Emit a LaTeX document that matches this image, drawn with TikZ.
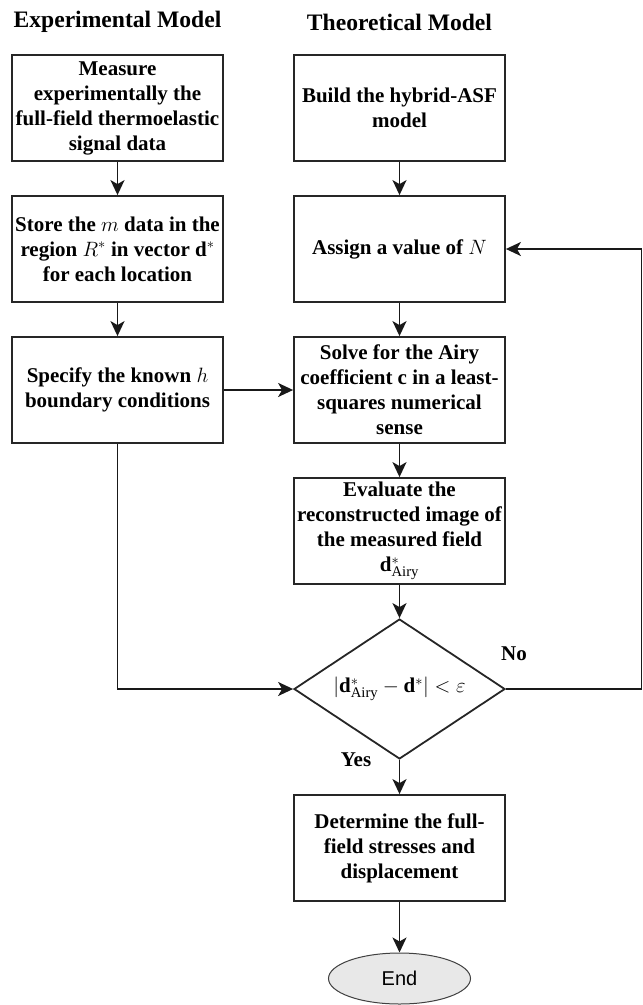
\documentclass[tikz,border=0pt]{standalone}
\usepackage{fontspec}
\setmainfont{Liberation Serif}
\newfontfamily\endfont{Liberation Sans}
\usetikzlibrary{shapes.geometric,arrows.meta}
\begin{document}
\begin{tikzpicture}[x=1pt,y=-1pt,
  titletxt/.style={font=\fontsize{23.6}{28}\selectfont\bfseries, inner sep=0pt},
  stepbox/.style={draw=black!85, line width=1.8pt, minimum width=211pt, minimum height=106pt,
    inner sep=2pt, align=center, font=\fontsize{21}{25}\selectfont\bfseries},
  decision/.style={diamond, draw=black!85, line width=1.8pt, minimum width=211pt, minimum height=140pt,
    aspect=1.507, inner sep=0pt, font=\fontsize{21}{25}\selectfont\bfseries},
  endnode/.style={ellipse, draw=black!75, line width=1pt, fill=black!9, minimum width=142pt,
    minimum height=51pt, inner sep=0pt, font=\fontsize{20}{24}\selectfont\endfont},
  lbl/.style={font=\fontsize{21}{25}\selectfont\bfseries, inner sep=0pt},
  arr/.style={draw=black!90, line width=1.8pt, -{Stealth[length=15pt,width=14pt,inset=4pt]}},
  line/.style={draw=black!90, line width=1.8pt}
]
\useasboundingbox (0,0) rectangle (643,1005);

\node[titletxt] (t1) at (117.5,22) {Experimental Model};
\node[titletxt] (t2) at (399.5,22) {Theoretical Model};

\node[stepbox] (L1) at (117.5,108) {Measure\\experimentally the\\full-field thermoelastic\\signal data};
\node[stepbox] (L2) at (117.5,249) {Store the $m$ data in the\\region $R^{*}$ in vector $\mathbf{d}^{*}$\\for each location};
\node[stepbox] (L3) at (117.5,390) {Specify the known $h$\\boundary conditions};

\node[stepbox] (R1) at (399.5,108) {Build the hybrid-ASF\\model};
\node[stepbox] (R2) at (399.5,249) {Assign a value of $N$};
\node[stepbox] (R3) at (399.5,390) {Solve for the Airy\\coefficient $\mathbf{c}$ in a least-\\squares numerical\\sense};
\node[stepbox] (R4) at (399.5,531) {Evaluate the\\reconstructed image of\\the measured field\\$\mathbf{d}^{*}_{\mathrm{Airy}}$};
\node[decision] (D) at (399.5,689) {$|\mathbf{d}^{*}_{\mathrm{Airy}}-\mathbf{d}^{*}|<\varepsilon$};
\node[stepbox] (R5) at (399.5,848) {Determine the full-\\field stresses and\\displacement};
\node[endnode] (E) at (399.5,978.5) {End};

\node[lbl] (yes) at (356,760) {Yes};
\node[lbl] (no) at (514,654) {No};

\coordinate (fb) at (641.5,689);

\draw[arr] (L1) -- (L2);
\draw[arr] (L2) -- (L3);
\draw[arr] (L3) -- (R3);
\draw[arr] (R1) -- (R2);
\draw[arr] (R2) -- (R3);
\draw[arr] (R3) -- (R4);
\draw[arr] (R4) -- (D.north);
\draw[arr] (L3.south) |- (D.west);
\draw[arr] (D.east) -- (fb) |- (R2.east);
\draw[arr] (D.south) -- (R5.north);
\draw[arr] (R5) -- (E);
\end{tikzpicture}
\end{document}
